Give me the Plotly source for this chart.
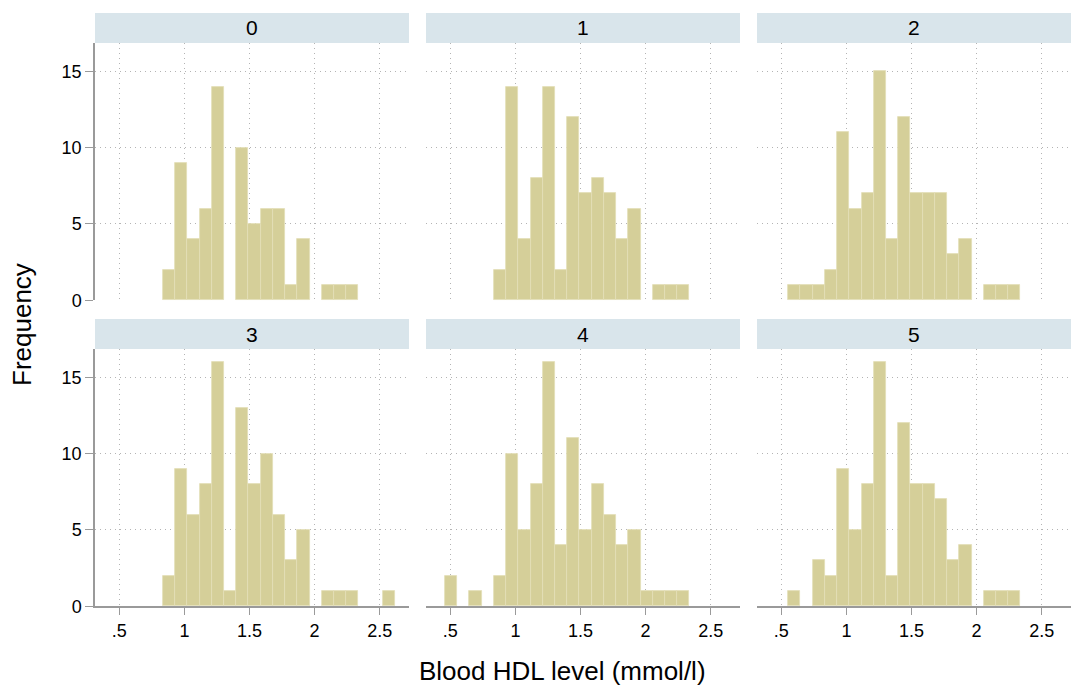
import plotly.graph_objects as go

# ---- data ----
panel_labels = ["0", "1", "2", "3", "4", "5"]
bin_start = 0.459
bin_width = 0.0939
counts_0 = [0, 0, 0, 0, 2, 9, 4, 6, 14, 0, 10, 5, 6, 6, 1, 4, 0, 1, 1, 1, 0, 0, 0]
counts_1 = [0, 0, 0, 0, 2, 14, 4, 8, 14, 2, 12, 7, 8, 7, 4, 6, 0, 1, 1, 1, 0, 0, 0]
counts_2 = [0, 1, 1, 1, 2, 11, 6, 7, 15, 4, 12, 7, 7, 7, 3, 4, 0, 1, 1, 1, 0, 0, 0]
counts_3 = [0, 0, 0, 0, 2, 9, 6, 8, 16, 1, 13, 8, 10, 6, 3, 5, 0, 1, 1, 1, 0, 0, 1]
counts_4 = [2, 0, 1, 0, 2, 10, 5, 8, 16, 4, 11, 5, 8, 6, 4, 5, 1, 1, 1, 1, 0, 0, 0]
counts_5 = [0, 1, 0, 3, 2, 9, 5, 8, 16, 2, 12, 8, 8, 7, 3, 4, 0, 1, 1, 1, 0, 0, 0]
x_tick_vals = [0.5, 1, 1.5, 2, 2.5]
x_tick_text = [".5", "1", "1.5", "2", "2.5"]
y_tick_vals = [0, 5, 10, 15]
y_tick_text = ["0", "5", "10", "15"]
x_title = "Blood HDL level (mmol/l)"
y_title = "Frequency"

all_counts = [counts_0, counts_1, counts_2, counts_3, counts_4, counts_5]

# ---- style / layout ----
W, H = 1071, 688
FONT = "Liberation Sans, Arial, Helvetica, sans-serif"
BAR = "#D5CF99"
BAR_LINE = "#E2DEB6"
STRIP = "#D9E5EB"
GRID = "#B4B4B4"
AXIS = "#9A9A9A"

col_px = [(95, 409), (426, 740), (757, 1071)]
row_px = [(43, 300.3), (349, 606.3)]          # plot area top/bottom in pixels
strip_px = [(13, 43), (319, 349)]

def px_x(p):
    return p / W

def px_y(p):
    return 1 - p / H

fig = go.Figure()
layout = dict(
    width=W, height=H, autosize=False,
    margin=dict(l=0, r=0, t=0, b=0, pad=0, autoexpand=False),
    paper_bgcolor="white", plot_bgcolor="white",
    showlegend=False,
    font=dict(family=FONT, color="#000000"),
    bargap=0,
)
shapes = []
annotations = []

for k, counts in enumerate(all_counts):
    r, c = divmod(k, 3)
    idx = k + 1
    xa = "x" if idx == 1 else f"x{idx}"
    ya = "y" if idx == 1 else f"y{idx}"
    centers = [bin_start + (i + 0.5) * bin_width for i in range(len(counts))]
    yvals = [v if v > 0 else None for v in counts]
    fig.add_trace(go.Bar(
        x=centers, y=yvals, width=[bin_width] * len(counts),
        marker=dict(color=BAR, line=dict(color=BAR_LINE, width=0.8)),
        xaxis=xa, yaxis=ya, hoverinfo="x+y",
    ))
    bottom = (r == 1)
    left = (c == 0)
    xkey = "xaxis" if idx == 1 else f"xaxis{idx}"
    ykey = "yaxis" if idx == 1 else f"yaxis{idx}"
    layout[xkey] = dict(
        domain=[px_x(col_px[c][0]), px_x(col_px[c][1])],
        anchor=ya, range=[0.313, 2.725],
        tickmode="array", tickvals=x_tick_vals, ticktext=x_tick_text,
        showticklabels=bottom,
        ticks="outside" if bottom else "", ticklen=7, tickcolor=AXIS, tickwidth=1,
        showline=bottom, linecolor=AXIS, linewidth=1.5,
        showgrid=True, gridcolor=GRID, gridwidth=1, griddash="1px,4px",
        zeroline=False, automargin=False,
        tickfont=dict(size=18, family=FONT, color="#000"),
        fixedrange=True,
    )
    layout[ykey] = dict(
        domain=[px_y(row_px[r][1]), px_y(row_px[r][0])],
        anchor=xa, range=[0, 16.85],
        tickmode="array", tickvals=y_tick_vals, ticktext=y_tick_text,
        showticklabels=left,
        ticks="outside" if left else "", ticklen=8, tickcolor=AXIS, tickwidth=1,
        showline=left, linecolor=AXIS, linewidth=1.5,
        showgrid=True, gridcolor=GRID, gridwidth=1, griddash="1px,4px",
        zeroline=False, automargin=False,
        tickfont=dict(size=18, family=FONT, color="#000"),
        fixedrange=True,
    )
    # strip
    shapes.append(dict(
        type="rect", xref="paper", yref="paper",
        x0=px_x(col_px[c][0]), x1=px_x(col_px[c][1]),
        y0=px_y(strip_px[r][1]), y1=px_y(strip_px[r][0]),
        fillcolor=STRIP, line=dict(width=0), layer="below",
    ))
    annotations.append(dict(
        text=panel_labels[k], xref="paper", yref="paper",
        x=px_x((col_px[c][0] + col_px[c][1]) / 2),
        y=px_y((strip_px[r][0] + strip_px[r][1]) / 2),
        xanchor="center", yanchor="middle", showarrow=False,
        font=dict(size=21, family=FONT, color="#000"),
    ))

annotations.append(dict(
    text=x_title, xref="paper", yref="paper",
    x=px_x(562), y=px_y(671), xanchor="center", yanchor="middle",
    showarrow=False, font=dict(size=26, family=FONT, color="#000"),
))
annotations.append(dict(
    text=y_title, xref="paper", yref="paper",
    x=px_x(22), y=px_y(325), xanchor="center", yanchor="middle",
    textangle=-90, showarrow=False, font=dict(size=26, family=FONT, color="#000"),
))

layout["shapes"] = shapes
layout["annotations"] = annotations
fig.update_layout(**layout)
fig.write_html(
    "out.html",
    config={"displayModeBar": False, "responsive": False},
    post_script=(
        "document.documentElement.style.margin='0';"
        "document.documentElement.style.overflow='hidden';"
        "document.body.style.margin='0';document.body.style.padding='0';"
        "document.body.style.overflow='hidden';"
    ),
)
